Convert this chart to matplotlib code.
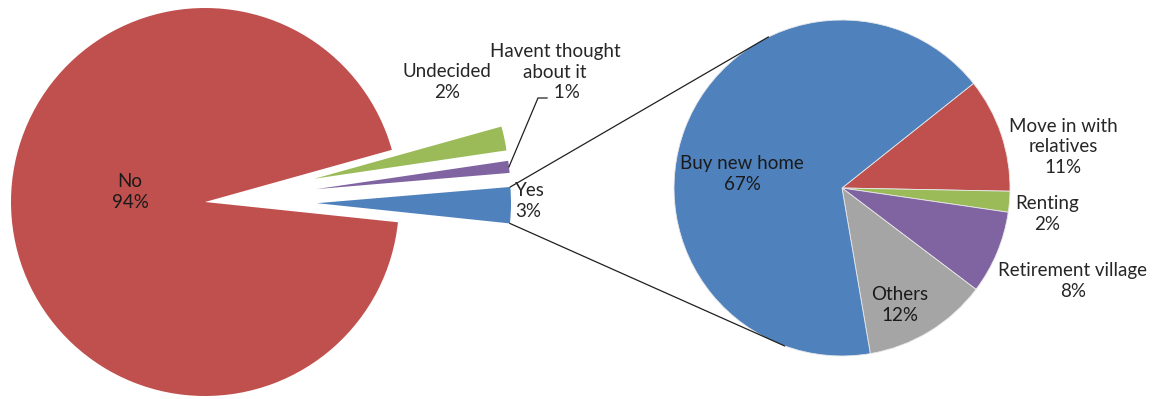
import numpy as np
import matplotlib.pyplot as plt

plt.rcParams['font.family'] = ['Lato', 'DejaVu Sans']

# main question: planning to move?
main_labels = ['Yes', 'Havent thought\nabout it', 'Undecided', 'No']
main_values = [3, 1, 2, 94]
main_colors = ['#4F81BD', '#8064A2', '#9BBB59', '#C0504D']

# breakdown of the "Yes" answers
sub_labels = ['Move in with\nrelatives', 'Renting', 'Retirement village', 'Others', 'Buy new home']
sub_values = [11, 2, 8, 12, 67]
sub_colors = ['#C0504D', '#9BBB59', '#8064A2', '#A5A5A5', '#4F81BD']

W, H = 1158, 399
fig = plt.figure(figsize=(W / 100, H / 100), dpi=100)
ax = fig.add_axes([0, 0, 1, 1])

c1, r1 = (205, 197), 194
c2, r2 = (842, 211), 168

# explode is in data units here (axes are in pixels)
w1, _ = ax.pie(main_values, colors=main_colors, startangle=-6.0, counterclock=True,
               explode=[112, 112, 112, 0], center=c1, radius=r1,
               wedgeprops=dict(linewidth=0), frame=True)
w2, _ = ax.pie(sub_values, colors=sub_colors, startangle=38.5, counterclock=False,
               center=c2, radius=r2, wedgeprops=dict(linewidth=0.6, edgecolor='#e8e8e8'),
               frame=True)
ax.set_xlim(0, W)
ax.set_ylim(0, H)
ax.set_aspect('equal')
ax.axis('off')


def edge_point(w, ang):
    cx, cy = w.center
    t = np.radians(ang)
    return cx + w.r * np.cos(t), cy + w.r * np.sin(t)


# connectors from the "Yes" wedge to the breakdown pie
yes = w1[0]
for ang, target in [(yes.theta2, 116), (yes.theta1, 250)]:
    x0, y0 = edge_point(yes, ang)
    t = np.radians(target)
    ax.plot([x0, c2[0] + r2 * np.cos(t)], [y0, c2[1] + r2 * np.sin(t)],
            color='#202020', lw=0.9)

# leader line for the 1% slice
hv = w1[1]
px, py = edge_point(hv, (hv.theta1 + hv.theta2) / 2)
ax.plot([px, 538, 547], [py, H - 98, H - 98], color='#202020', lw=0.9)

txt = dict(ha='center', va='center', fontsize=13.5, linespacing=1.25, color='#262626')
dark = dict(txt, color='#1a1a1a')

ax.text(130, H - 192, 'No\n94%', **dark)
ax.text(447, H - 82, 'Undecided\n2%', **txt)
ax.text(555, H - 72, 'Havent thought\nabout it\n     1%', **txt)
ax.text(515, H - 201, 'Yes\n3%', ha='left', va='center', fontsize=13.5,
        linespacing=1.25, color='#262626')

ax.text(742, H - 174, 'Buy new home\n67%', **dark)
ax.text(1063, H - 147, 'Move in with\nrelatives\n11%', **txt)
ax.text(1047, H - 214, 'Renting\n2%', **txt)
ax.text(1073, H - 281, 'Retirement village\n8%', **txt)
ax.text(900, H - 305, 'Others\n12%', **dark)

fig.savefig('out.png', dpi=100)
